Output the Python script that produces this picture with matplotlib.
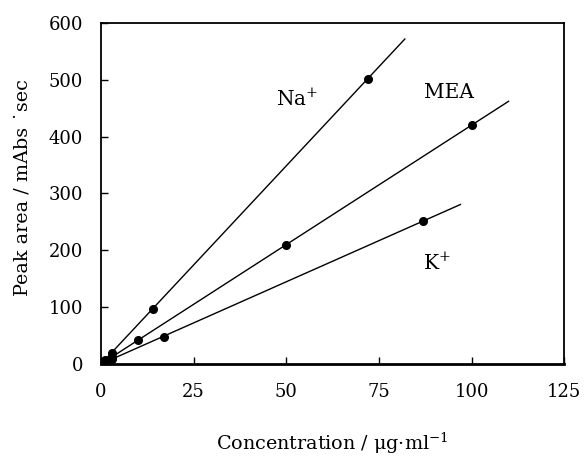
import matplotlib
matplotlib.use("Agg")
import matplotlib.pyplot as plt
import numpy as np

plt.rcParams['font.family'] = ['DejaVu Serif']
plt.rcParams['mathtext.fontset'] = 'dejavuserif'

# data
na_x = [0.1, 0.5, 1, 3, 14, 72]
na_y = [0.7, 3.5, 7, 20, 97, 502]
mea_x = [0.5, 1, 3, 10, 50, 100]
mea_y = [2, 4, 13, 42, 210, 420]
k_x = [0.5, 1, 3, 17, 87]
k_y = [1.5, 3, 9, 47, 252]
line_end = {'Na': 82, 'MEA': 110, 'K': 97}
xticks = [0, 25, 50, 75, 100, 125]
yticks = [0, 100, 200, 300, 400, 500, 600]

fig = plt.figure(figsize=(5.84, 4.57), dpi=100)
ax = fig.add_axes([0.173, 0.2035, 0.793, 0.7465])

series = [('Na', na_x, na_y), ('MEA', mea_x, mea_y), ('K', k_x, k_y)]
for name, xs, ys in series:
    xs = np.array(xs); ys = np.array(ys)
    slope = np.sum(xs * ys) / np.sum(xs * xs)
    xl = np.array([0, line_end[name]])
    ax.plot(xl, slope * xl, color='black', lw=1.0)
    ax.plot(xs, ys, 'o', color='black', ms=5.5)

ax.text(47.2, 466, r'Na$^{+}$', fontsize=14.5, ha='left', va='center')
ax.text(93.8, 477, 'MEA', fontsize=14.5, ha='center', va='center')
ax.text(87, 178, r'K$^{+}$', fontsize=14.5, ha='left', va='center')

ax.set_xlim(0, 125)
ax.set_ylim(0, 600)
ax.set_xticks(xticks)
ax.set_yticks(yticks)
ax.tick_params(direction='in', length=5, width=1, labelsize=13)
ax.tick_params(axis='y', pad=13)
ax.tick_params(axis='x', pad=14)
for s in ['left', 'top', 'right']:
    ax.spines[s].set_linewidth(1.3)
ax.spines['bottom'].set_linewidth(2)

fig.text(332 / 584, 1 - 443 / 457, r'Concentration / μg·ml$^{\mathregular{-1}}$',
         fontsize=13.8, ha='center', va='center')
fig.text(23 / 584, 1 - 188 / 457, 'Peak area / mAbs ˙sec', fontsize=13.8,
         ha='center', va='center', rotation=90)

fig.savefig('out.png', dpi=100)
